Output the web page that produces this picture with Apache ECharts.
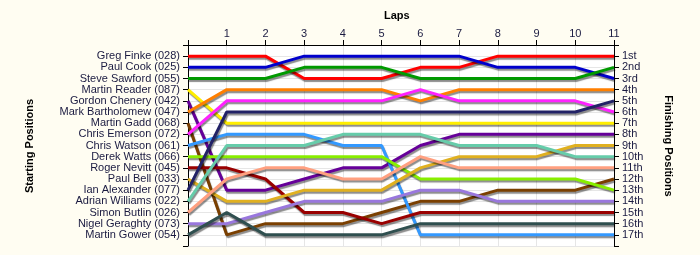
<!DOCTYPE html>
<html>
<head>
<meta charset="utf-8">
<script src="https://cdn.jsdelivr.net/npm/echarts@6/dist/echarts.min.js"></script>
<style>
html,body{margin:0;padding:0;background:#FFFDF2;}
#c{width:700px;height:255px;}
</style>
</head>
<body>
<div id="c"></div>
<script>
const laps = [0,1,2,3,4,5,6,7,8,9,10,11];
const drivers = [
  "Greg Finke (028)","Paul Cook (025)","Steve Sawford (055)","Martin Reader (087)",
  "Gordon Chenery (042)","Mark Bartholomew (047)","Martin Gadd (068)","Chris Emerson (072)",
  "Chris Watson (061)","Derek Watts (066)","Roger Nevitt (045)","Paul Bell (033)",
  "Ian Alexander (077)","Adrian Williams (022)","Simon Butlin (026)","Nigel Geraghty (073)",
  "Martin Gower (054)"
];
const finishLabels = ["1st","2nd","3rd","4th","5th","6th","7th","8th","9th","10th","11th","12th","13th","14th","15th","16th","17th"];
const colors = ["#FF0000","#0000CC","#009900","#FFEE00","#660099","#FF7F00","#7A3F00","#FF22FF",
  "#3399FF","#88EE00","#990000","#E0B020","#222266","#66CCAA","#FFA080","#9977DD","#2F4F4F"];

// Position of each driver after each lap (lap 0 = start)
const gregFinke       = [1,1,1,3,3,3,2,2,1,1,1,1];
const paulCook        = [2,2,2,1,1,1,1,1,2,2,2,3];
const steveSawford    = [3,3,3,2,2,2,3,3,3,3,3,2];
const martinReader    = [4,7,7,7,7,7,7,7,7,7,7,7];
const gordonChenery   = [5,13,13,12,11,11,9,8,8,8,8,8];
const markBartholomew = [6,4,4,4,4,4,5,4,4,4,4,4];
const martinGadd      = [7,17,16,16,16,15,14,14,13,13,13,12];
const chrisEmerson    = [8,5,5,5,5,5,4,5,5,5,5,6];
const chrisWatson     = [9,8,8,8,9,9,17,17,17,17,17,17];
const derekWatts      = [10,10,10,10,10,10,12,12,12,12,12,13];
const rogerNevitt     = [11,11,12,15,15,16,15,15,15,15,15,15];
const paulBell        = [12,14,14,13,13,13,11,10,10,10,9,9];
const ianAlexander    = [13,6,6,6,6,6,6,6,6,6,6,5];
const adrianWilliams  = [14,9,9,9,8,8,8,9,9,9,10,10];
const simonButlin     = [15,12,11,11,12,12,10,11,11,11,11,11];
const nigelGeraghty   = [16,16,15,14,14,14,13,13,14,14,14,14];
const martinGower     = [17,15,17,17,17,17,16,16,16,16,16,16];

const positions = [gregFinke,paulCook,steveSawford,martinReader,gordonChenery,markBartholomew,
  martinGadd,chrisEmerson,chrisWatson,derekWatts,rogerNevitt,paulBell,ianAlexander,
  adrianWilliams,simonButlin,nigelGeraghty,martinGower];

const FONT = "Liberation Sans";
const labelColor = "#1a1a40";

const series = positions.map((arr,i)=>({
  name: drivers[i],
  type: 'line',
  yAxisIndex: 0,
  symbol: 'none',
  animation: false,
  data: laps.map((l,j)=>[l, arr[j]]),
  lineStyle: {color: colors[i], width: 3, shadowColor: 'rgba(0,0,0,0.45)', shadowOffsetX: 1, shadowOffsetY: 2, shadowBlur: 1},
  z: 3
}));

const chart = echarts.init(document.getElementById('c'), null, {renderer:'canvas'});
chart.setOption({
  backgroundColor: '#FFFDF2',
  animation: false,
  grid: {left:188, right:86, top:45, bottom:9, show:true, backgroundColor:'#FFFFFF', borderWidth:0},
  xAxis: {
    type:'value', position:'top', min:0, max:11, interval:1,
    axisLine:{show:true, lineStyle:{color:'#000', width:1}},
    axisTick:{show:true, length:5, inside:false, lineStyle:{color:'#000'}},
    axisLabel:{show:true, margin:6, fontFamily:FONT, fontSize:11, color:labelColor,
      formatter:v=> v===0 ? '' : String(v)},
    splitLine:{show:true, lineStyle:{color:'#E6E6E6', width:1}}
  },
  yAxis: [{
    type:'value', inverse:true, min:0, max:18, interval:1, position:'left',
    axisLine:{show:true, onZero:false, lineStyle:{color:'#000', width:1}},
    axisTick:{show:true, length:5, lineStyle:{color:'#000'}},
    axisLabel:{show:true, margin:8, fontFamily:FONT, fontSize:11, color:labelColor,
      formatter:v=> (v>=1 && v<=17) ? drivers[v-1] : ''},
    splitLine:{show:true, lineStyle:{color:'#E6E6E6', width:1}}
  },{
    type:'value', inverse:true, min:0, max:18, interval:1, position:'right',
    axisLine:{show:true, onZero:false, lineStyle:{color:'#000', width:1}},
    axisTick:{show:true, length:5, lineStyle:{color:'#000'}},
    axisLabel:{show:true, margin:8, fontFamily:FONT, fontSize:11, color:labelColor,
      formatter:v=> (v>=1 && v<=17) ? finishLabels[v-1] : ''},
    splitLine:{show:false}
  }],
  graphic: [
    {type:'text', left:384, top:10, style:{text:'Laps', font:'bold 11px "Liberation Sans"', fill:'#000'}},
    {type:'text', x:30, y:146, rotation:Math.PI/2, style:{text:'Starting Positions', font:'bold 11px "Liberation Sans"', fill:'#000', align:'center', verticalAlign:'middle'}},
    {type:'text', x:668, y:146, rotation:-Math.PI/2, style:{text:'Finishing Positions', font:'bold 11px "Liberation Sans"', fill:'#000', align:'center', verticalAlign:'middle'}}
  ],
  series: series
});
</script>
</body>
</html>
